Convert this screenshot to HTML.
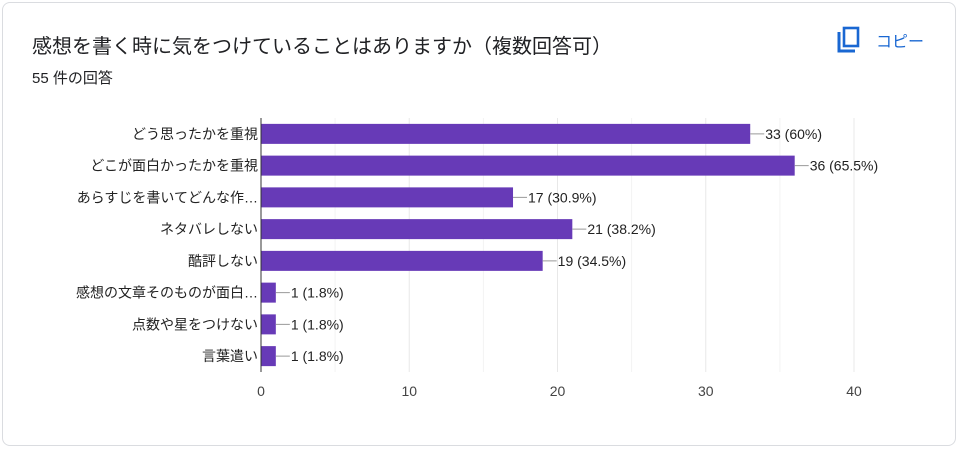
<!DOCTYPE html>
<html><head><meta charset="utf-8"><style>
body{margin:0;width:964px;height:450px;background:#fff;font-family:"Liberation Sans","Noto Sans CJK JP",sans-serif;overflow:hidden}
.card{position:absolute;left:2px;top:2px;width:954px;height:444px;border:1px solid #dadce0;border-radius:8px;box-sizing:border-box}
.title{position:absolute;left:32px;top:30px;font-size:20px;color:#202124}
.sub{position:absolute;left:32px;top:67px;font-size:15px;color:#202124}
.copy{position:absolute;left:836px;top:26px;display:flex;align-items:center;color:#1a73e8;font-size:16px}
svg text{font-family:"Liberation Sans","Noto Sans CJK JP",sans-serif}
</style></head><body>
<div class="card"></div>
<div class="title">感想を書く時に気をつけていることはありますか（複数回答可）</div>
<div class="sub">55 件の回答</div>
<div class="copy">
<svg width="26" height="28" viewBox="0 0 26 28"><path d="M3 6v19h16" fill="none" stroke="#1967d2" stroke-width="3"/><rect x="8" y="2" width="14" height="18" fill="none" stroke="#1967d2" stroke-width="2.6"/></svg>
<span style="margin-left:14px;color:#1967d2">コピー</span></div>
<svg id="chart" width="964" height="450" style="position:absolute;left:0;top:0"></svg>
<script>
const categories=["どう思ったかを重視","どこが面白かったかを重視","あらすじを書いてどんな作…","ネタバレしない","酷評しない","感想の文章そのものが面白…","点数や星をつけない","言葉遣い"];
const values=[33,36,17,21,19,1,1,1];
const percents=["60%","65.5%","30.9%","38.2%","34.5%","1.8%","1.8%","1.8%"];
const ticks=[0,10,20,30,40];
const svg=document.getElementById('chart');
const NS='http://www.w3.org/2000/svg';
const x0=261,x1=854,yTop=118,yBot=372,maxV=40;
const xs=v=>x0+(x1-x0)*v/maxV;
const band=(yBot-yTop)/categories.length;
function mk(t,a){const e=document.createElementNS(NS,t);for(const k in a)e.setAttribute(k,a[k]);svg.appendChild(e);return e;}
for(let v=5;v<=maxV;v+=5){
const g=mk('line',{x1:xs(v),x2:xs(v),y1:yTop,y2:yBot,stroke:v%10==0?'#e8e8e8':'#f3f3f3'});


}
ticks.forEach(t=>{
const e=mk('text',{x:xs(t),y:396,'text-anchor':'middle','font-size':14,fill:'#444'});e.textContent=t;


});
categories.forEach((c,i)=>{
const cy=yTop+band*(i+0.5);
const r=mk('rect',{x:x0,y:cy-10,width:xs(values[i])-x0,height:20,fill:'#673ab7'});


const l=mk('text',{x:x0-3,y:cy+5,'text-anchor':'end','font-size':14,fill:'#222'});l.textContent=c;


const ex=xs(values[i]);
const ln=mk('line',{x1:ex,x2:ex+14,y1:cy,y2:cy,stroke:'#999'});


const vt=mk('text',{x:ex+15,y:cy+5,'font-size':14,fill:'#222'});vt.textContent=values[i]+' ('+percents[i]+')';


});
const ax=mk('line',{x1:x0,x2:x0,y1:yTop,y2:yBot,stroke:'#333'});


</script>
</body></html>
